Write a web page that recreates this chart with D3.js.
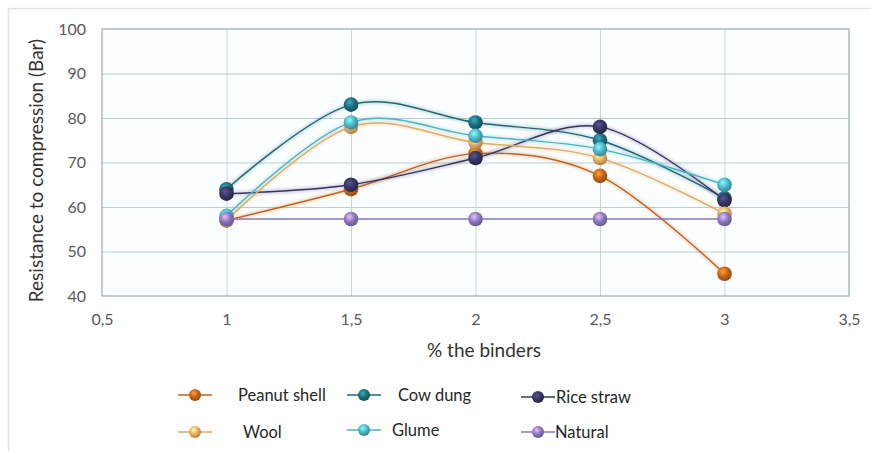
<!DOCTYPE html>
<html>
<head>
<meta charset="utf-8">
<script src="https://cdn.jsdelivr.net/npm/d3@7"></script>
<style>
  html, body { margin: 0; padding: 0; background: #fff; }
  svg { display: block; font-family: Lato, "Open Sans", sans-serif; }
</style>
</head>
<body>
<svg id="chart" width="871" height="451"></svg>
<script>
// Binder content (%) on the x axis
const binderPct = [1, 1.5, 2, 2.5, 3];

// Compression resistance (Bar) per binder type
const peanutShell = [57, 64, 72, 67, 45];
const cowDung     = [64, 83, 79, 75, 62];
const riceStraw   = [63, 65, 71, 78, 61.5];
const wool        = [57, 78, 74.5, 71, 58.5];
const glume       = [58, 79, 76, 73, 65];
const natural     = [57.3, 57.3, 57.3, 57.3, 57.3];

const seriesNames  = ["Peanut shell", "Cow dung", "Rice straw", "Wool", "Glume", "Natural"];
const seriesValues = [peanutShell, cowDung, riceStraw, wool, glume, natural];
const seriesColors = ["#c4621a", "#1e6a78", "#35345e", "#e2aa63", "#4db2c4", "#8b76bb"];

const xTicks = [0.5, 1, 1.5, 2, 2.5, 3, 3.5];
const yTicks = [40, 50, 60, 70, 80, 90, 100];

const svg = d3.select("#chart");
const defs = svg.append("defs");

// Chart frame
svg.append("path")
  .attr("d", "M8.5,451 V8.5 H871")
  .attr("fill", "none").attr("stroke", "#e2e2e2").attr("stroke-width", 1.5);

const plot = { left: 102, right: 849, top: 29, bottom: 296 };

const x = d3.scaleLinear().domain([0.5, 3.5]).range([plot.left, plot.right]);
const y = d3.scaleLinear().domain([40, 100]).range([plot.bottom, plot.top]);

// Plot background
svg.append("rect")
  .attr("x", plot.left).attr("y", plot.top)
  .attr("width", plot.right - plot.left).attr("height", plot.bottom - plot.top)
  .attr("fill", "#fbfefe");

// Gridlines
svg.append("g")
  .attr("transform", `translate(0,${plot.bottom})`)
  .call(d3.axisBottom(x).tickValues(xTicks.slice(1, -1)).tickSize(-(plot.bottom - plot.top)).tickFormat(""))
  .call(g => g.select(".domain").remove())
  .call(g => g.selectAll("line").attr("stroke", "#c9d6d8").attr("stroke-width", 1));

svg.append("g")
  .attr("transform", `translate(${plot.left},0)`)
  .call(d3.axisLeft(y).tickValues(yTicks.slice(1, -1)).tickSize(-(plot.right - plot.left)).tickFormat(""))
  .call(g => g.select(".domain").remove())
  .call(g => g.selectAll("line").attr("stroke", "#b8cfd2").attr("stroke-width", 1.2));

// Plot border
svg.append("rect")
  .attr("x", plot.left).attr("y", plot.top)
  .attr("width", plot.right - plot.left).attr("height", plot.bottom - plot.top)
  .attr("fill", "none").attr("stroke", "#9fb0b2").attr("stroke-width", 1.3);

// Tick labels
const fmt = d => String(d).replace(".", ",");
svg.append("g")
  .attr("transform", `translate(0,${plot.bottom})`)
  .call(d3.axisBottom(x).tickValues(xTicks).tickSize(0).tickPadding(18).tickFormat(fmt))
  .call(g => g.select(".domain").remove())
  .call(g => g.selectAll("text").attr("fill", "#595959").attr("font-size", 16).attr("font-family", "Lato, sans-serif"));

svg.append("g")
  .attr("transform", `translate(${plot.left},0)`)
  .call(d3.axisLeft(y).tickValues(yTicks).tickSize(0).tickPadding(16).tickFormat(d3.format("d")))
  .call(g => g.select(".domain").remove())
  .call(g => g.selectAll("text").attr("fill", "#595959").attr("font-size", 16).attr("font-family", "Lato, sans-serif"));

// Axis titles
svg.append("text")
  .attr("transform", `translate(43,${(plot.top + plot.bottom) / 2 + 8}) rotate(-90)`)
  .attr("text-anchor", "middle")
  .attr("fill", "#333").attr("font-size", 19)
  .text("Resistance to compression (Bar)");

svg.append("text")
  .attr("x", 484).attr("y", 357)
  .attr("text-anchor", "middle")
  .attr("fill", "#333").attr("font-size", 19)
  .text("% the binders");

// Sphere-style marker fills
seriesColors.forEach((c, i) => {
  const g = defs.append("radialGradient")
    .attr("id", "ball" + i).attr("cx", "40%").attr("cy", "35%").attr("r", "65%");
  g.append("stop").attr("offset", "0%").attr("stop-color", d3.color(c).brighter(1.4));
  g.append("stop").attr("offset", "55%").attr("stop-color", c);
  g.append("stop").attr("offset", "100%").attr("stop-color", d3.color(c).darker(0.8));
});

const shadow = defs.append("filter").attr("id", "soft").attr("x", "-20%").attr("y", "-20%").attr("width", "140%").attr("height", "140%");
shadow.append("feGaussianBlur").attr("stdDeviation", 1.2);

const line = d3.line()
  .x((d, i) => x(binderPct[i]))
  .y(d => y(d))
  .curve(d3.curveCardinal.tension(0));

const series = svg.append("g");
seriesValues.forEach((vals, i) => {
  // faint halo under each line
  series.append("path")
    .attr("d", line(vals))
    .attr("fill", "none")
    .attr("stroke", seriesColors[i])
    .attr("stroke-opacity", 0.18)
    .attr("stroke-width", 5)
    .attr("filter", "url(#soft)");
  series.append("path")
    .attr("d", line(vals))
    .attr("fill", "none")
    .attr("stroke", seriesColors[i])
    .attr("stroke-width", 1.4);
});

seriesValues.forEach((vals, i) => {
  series.selectAll(null)
    .data(vals)
    .join("circle")
    .attr("cx", (d, j) => x(binderPct[j]))
    .attr("cy", d => y(d))
    .attr("r", 7.3)
    .attr("fill", `url(#ball${i})`);
});

// Legend
const legendPos = [
  { mx: 195, tx: 238, ty: 395 },
  { mx: 364, tx: 398, ty: 395 },
  { mx: 538, tx: 556, ty: 397 },
  { mx: 195, tx: 243, ty: 432 },
  { mx: 364, tx: 392, ty: 430 },
  { mx: 538, tx: 555, ty: 432 }
];
const legend = svg.append("g");
seriesNames.forEach((name, i) => {
  const p = legendPos[i];
  legend.append("line")
    .attr("x1", p.mx - 17).attr("x2", p.mx + 17)
    .attr("y1", p.ty).attr("y2", p.ty)
    .attr("stroke", seriesColors[i]).attr("stroke-width", 1.4);
  legend.append("circle")
    .attr("cx", p.mx).attr("cy", p.ty).attr("r", 6)
    .attr("fill", `url(#ball${i})`);
  legend.append("text")
    .attr("x", p.tx).attr("y", p.ty)
    .attr("dy", "0.35em")
    .attr("fill", "#262626").attr("font-size", 16.5)
    .text(name);
});
</script>
</body>
</html>
